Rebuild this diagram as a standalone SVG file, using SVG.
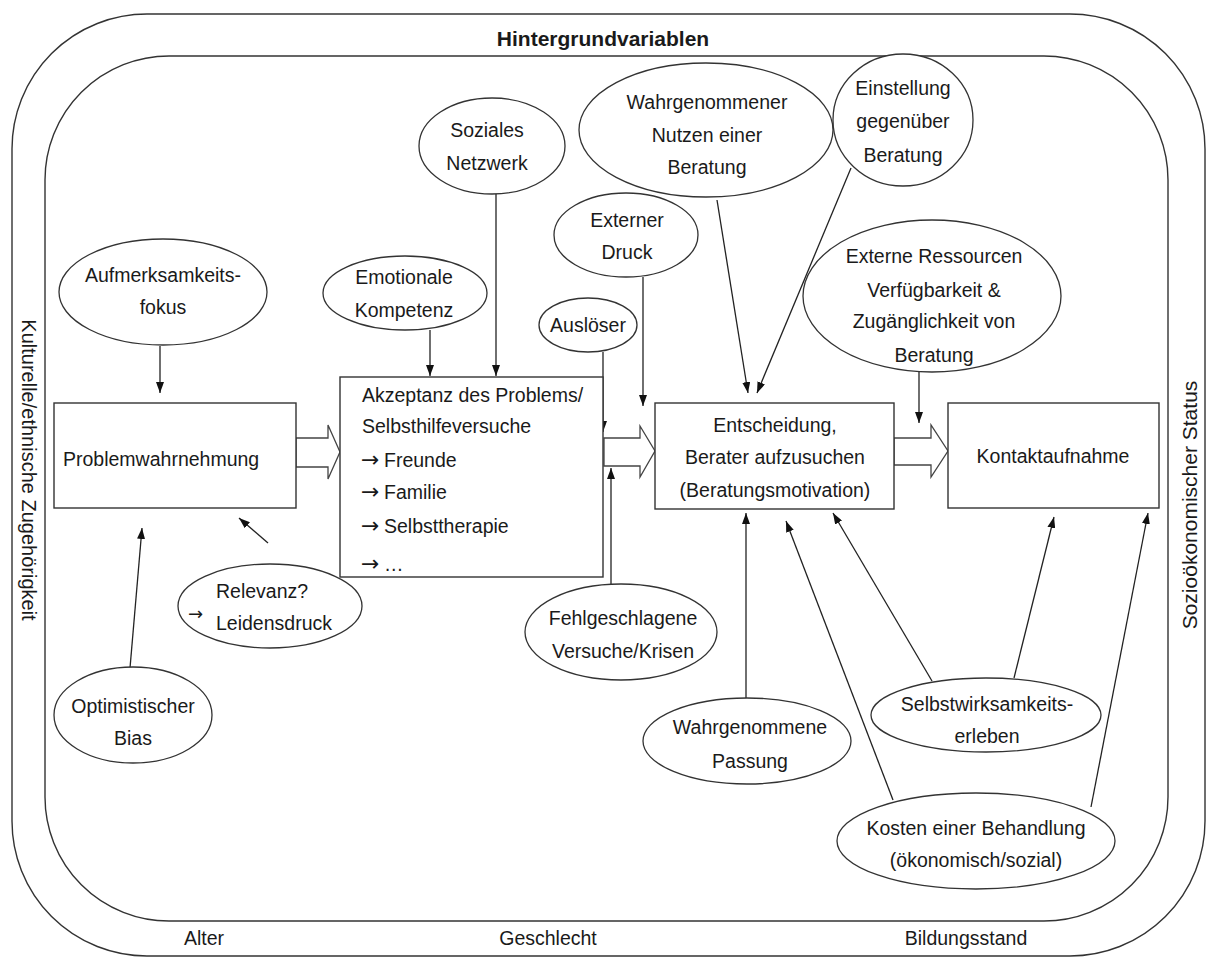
<svg xmlns="http://www.w3.org/2000/svg" width="1207" height="958" viewBox="0 0 1207 958">
<style>
text{font-family:"Liberation Sans",Arial,sans-serif;font-size:19.5px;fill:#1a1a1a}
.c{text-anchor:middle}
.ar{font-family:"DejaVu Sans",sans-serif;font-size:22px}
.frame{fill:none;stroke:#333;stroke-width:1.4}
.box{fill:#fff;stroke:#333;stroke-width:1.4}
.ell{fill:#fff;stroke:#333;stroke-width:1.3}
.blk{fill:#fff;stroke:#444;stroke-width:1.3}
.con line{stroke:#222;stroke-width:1.3;marker-end:url(#ah)}
</style>
<defs>
<marker id="ah" markerUnits="userSpaceOnUse" markerWidth="11" markerHeight="8" refX="11" refY="4" orient="auto"><path d="M0,0 L11,4 L0,8 z" fill="#111"/></marker>
</defs>
<rect fill="#fff" x="0" y="0" width="1207" height="958"/>
<g id="frames">
<rect class="frame" x="12" y="14" width="1193" height="942" rx="135" ry="135"/>
<rect class="frame" x="45" y="56" width="1123" height="865" rx="124" ry="124"/>
<text class="c" x="603" y="46" style="font-weight:bold;font-size:21px">Hintergrundvariablen</text>
<text class="c" transform="translate(22,470) rotate(90)" style="font-size:20px">Kulturelle/ethnische Zugehörigkeit</text>
<text class="c" transform="translate(1197,505) rotate(-90)" style="font-size:21px">Sozioökonomischer Status</text>
<text class="c" x="204" y="945">Alter</text>
<text class="c" x="548" y="945">Geschlecht</text>
<text class="c" x="966" y="945">Bildungsstand</text>
</g>
<g id="connectors" class="con">
<line x1="160" y1="346" x2="160" y2="393"/>
<line x1="430" y1="330" x2="430" y2="376"/>
<line x1="496" y1="194" x2="496" y2="376"/>
<line x1="603" y1="352" x2="603" y2="432"/>
<line x1="643" y1="277" x2="643" y2="406"/>
<line x1="717" y1="200" x2="748" y2="393"/>
<line x1="851" y1="168" x2="757" y2="393"/>
<line x1="919" y1="372" x2="919" y2="423"/>
<line x1="268" y1="543" x2="239" y2="518"/>
<line x1="130" y1="668" x2="142" y2="528"/>
<line x1="611" y1="585" x2="611" y2="468"/>
<line x1="746" y1="699" x2="746" y2="513"/>
<line x1="932" y1="681" x2="833" y2="513"/>
<line x1="1014" y1="678" x2="1054" y2="517"/>
<line x1="893" y1="800" x2="786" y2="521"/>
<line x1="1091" y1="807" x2="1148" y2="513"/>
</g>
<g id="block-arrows">
<polygon class="blk" points="296,438 328,438 328,425 340,452 328,479 328,467 296,467"/>
<polygon class="blk" points="604,438 640,438 640,426 655,451 640,477 640,466 604,466"/>
<polygon class="blk" points="894,438 931,438 931,425 948,451 931,477 931,465 894,465"/>
</g>
<g id="problemwahrnehmung">
<rect class="box" x="54" y="403" width="242" height="105"/>
<text x="63" y="466">Problemwahrnehmung</text>
</g>
<g id="akzeptanz">
<rect class="box" x="340" y="377" width="263" height="200"/>
<text x="362" y="402">Akzeptanz des Problems/</text>
<text x="362" y="433">Selbsthilfeversuche</text>
<text x="361" y="467"><tspan class="ar">→</tspan><tspan x="384">Freunde</tspan></text>
<text x="361" y="499"><tspan class="ar">→</tspan><tspan x="384">Familie</tspan></text>
<text x="361" y="533"><tspan class="ar">→</tspan><tspan x="384">Selbsttherapie</tspan></text>
<text x="361" y="571"><tspan class="ar">→</tspan><tspan x="384">…</tspan></text>
</g>
<g id="entscheidung">
<rect class="box" x="655" y="403" width="239" height="106"/>
<text class="c" x="775" y="432">Entscheidung,</text>
<text class="c" x="775" y="464">Berater aufzusuchen</text>
<text class="c" x="775" y="497">(Beratungsmotivation)</text>
</g>
<g id="kontaktaufnahme">
<rect class="box" x="948" y="403" width="211" height="105"/>
<text class="c" x="1053" y="463">Kontaktaufnahme</text>
</g>
<g id="aufmerksamkeit">
<ellipse class="ell" cx="163" cy="292" rx="104" ry="53"/>
<text class="c" x="163" y="282">Aufmerksamkeits-</text>
<text class="c" x="163" y="314">fokus</text>
</g>
<g id="emotionale">
<ellipse class="ell" cx="405" cy="293" rx="82" ry="37"/>
<text class="c" x="404" y="284">Emotionale</text>
<text class="c" x="404" y="317">Kompetenz</text>
</g>
<g id="soziales">
<ellipse class="ell" cx="492" cy="146" rx="73" ry="48"/>
<text class="c" x="487" y="137">Soziales</text>
<text class="c" x="487" y="170">Netzwerk</text>
</g>
<g id="externer-druck">
<ellipse class="ell" cx="626" cy="235" rx="72" ry="42"/>
<text class="c" x="627" y="227">Externer</text>
<text class="c" x="627" y="259">Druck</text>
</g>
<g id="ausloeser">
<ellipse class="ell" cx="588" cy="325" rx="49" ry="27"/>
<text class="c" x="588" y="332">Auslöser</text>
</g>
<g id="nutzen">
<ellipse class="ell" cx="706" cy="130" rx="127" ry="67"/>
<text class="c" x="707" y="109">Wahrgenommener</text>
<text class="c" x="707" y="142">Nutzen einer</text>
<text class="c" x="707" y="174">Beratung</text>
</g>
<g id="einstellung">
<ellipse class="ell" cx="903" cy="120" rx="70" ry="66"/>
<text class="c" x="903" y="95">Einstellung</text>
<text class="c" x="903" y="128">gegenüber</text>
<text class="c" x="903" y="162">Beratung</text>
</g>
<g id="ressourcen">
<ellipse class="ell" cx="932" cy="296" rx="129" ry="76"/>
<text class="c" x="934" y="263">Externe Ressourcen</text>
<text class="c" x="934" y="297">Verfügbarkeit &amp;</text>
<text class="c" x="934" y="328">Zugänglichkeit von</text>
<text class="c" x="934" y="362">Beratung</text>
</g>
<g id="relevanz">
<ellipse class="ell" cx="270" cy="606" rx="92" ry="42"/>
<text x="216" y="598">Relevanz?</text>
<text class="ar" x="188" y="620" style="font-size:18px">→</text>
<text x="216" y="630">Leidensdruck</text>
</g>
<g id="optimistisch">
<ellipse class="ell" cx="133" cy="715" rx="79" ry="48"/>
<text class="c" x="133" y="713">Optimistischer</text>
<text class="c" x="133" y="745">Bias</text>
</g>
<g id="fehlgeschlagen">
<ellipse class="ell" cx="621" cy="632" rx="96" ry="48"/>
<text class="c" x="623" y="625">Fehlgeschlagene</text>
<text class="c" x="623" y="658">Versuche/Krisen</text>
</g>
<g id="passung">
<ellipse class="ell" cx="747" cy="741" rx="104" ry="43"/>
<text class="c" x="750" y="734">Wahrgenommene</text>
<text class="c" x="750" y="768">Passung</text>
</g>
<g id="selbstwirksamkeit">
<ellipse class="ell" cx="986" cy="715" rx="115" ry="37"/>
<text class="c" x="987" y="711">Selbstwirksamkeits-</text>
<text class="c" x="987" y="743">erleben</text>
</g>
<g id="kosten">
<ellipse class="ell" cx="976" cy="841" rx="139" ry="48"/>
<text class="c" x="976" y="835">Kosten einer Behandlung</text>
<text class="c" x="976" y="867">(ökonomisch/sozial)</text>
</g>
</svg>
